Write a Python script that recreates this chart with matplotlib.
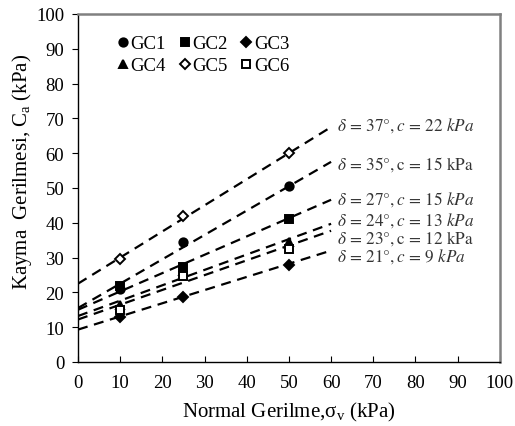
import matplotlib
matplotlib.use("Agg")
import matplotlib.pyplot as plt

plt.rcParams["font.family"] = "Liberation Serif"
plt.rcParams["mathtext.fontset"] = "stix"

# measured points (normal stress, shear stress)
sigma_v = [10, 25, 50]
series_names = ["GC1", "GC2", "GC3", "GC4", "GC5", "GC6"]
gc1 = [21.0, 34.5, 50.6]
gc2 = [21.7, 27.4, 41.2]
gc3 = [13.0, 18.6, 27.9]
gc4 = [16.3, 26.2, 34.4]
gc5 = [29.6, 42.0, 60.0]
gc6 = [15.0, 24.6, 32.5]

# fitted envelopes, value at sigma = 0 and sigma = 60
fit_x = [0, 60]
fit_start = [22.5, 15.5, 15.0, 13.2, 12.2, 9.3]
fit_end = [67.5, 57.5, 46.6, 39.7, 37.7, 32.0]
fit_labels = [
    r"$\delta\,=\,37°, c\,=\,22\ kPa$",
    r"$\delta\,=\,35°, \mathrm{c}\,=\,15\ \mathrm{kPa}$",
    r"$\delta\,=\,27°, c\,=\,15\ kPa$",
    r"$\delta\,=\,24°, c\,=\,13\ kPa$",
    r"$\delta\,=\,23°, \mathrm{c}\,=\,12\ \mathrm{kPa}$",
    r"$\delta\,=\,21°, c\,=\,9\ kPa$",
]
label_y = [68.1, 57.0, 47.0, 40.9, 35.8, 30.7]

markers = ["o", "s", "D", "^", "D", "s"]
filled = [True, True, True, True, False, False]

fig = plt.figure(figsize=(5.15, 4.27), dpi=100)
ax = fig.add_axes([0.1515, 0.150, 0.819, 0.815])

for ys, ye in zip(fit_start, fit_end):
    ax.plot(fit_x, [ys, ye], color="black", lw=1.6, ls=(0, (4.5, 3)))

handles = []
for name, vals, m, f in zip(series_names, [gc1, gc2, gc3, gc4, gc5, gc6], markers, filled):
    ms = 6 if m != "D" else 5
    h, = ax.plot(sigma_v, vals, ls="none", marker=m, ms=ms, mew=1.4,
                 mfc="black" if f else "white", mec="black", label=name, zorder=3)
    handles.append(h)

for txt, y in zip(fit_labels, label_y):
    ax.text(61.3, y, txt, fontsize=12.3, va="center", ha="left", color="#333333")

ax.set_xlim(0, 100)
ax.set_ylim(0, 100)
ax.set_xticks(range(0, 101, 10))
ax.set_yticks(range(0, 101, 10))
ax.tick_params(axis="x", direction="in", length=4, labelsize=13.5, pad=9)
ax.tick_params(axis="y", direction="out", length=4, labelsize=13.5, pad=6)

for s in ["top", "right"]:
    ax.spines[s].set_color("#808080")
    ax.spines[s].set_linewidth(1.8)
for s in ["left", "bottom"]:
    ax.spines[s].set_color("black")
    ax.spines[s].set_linewidth(1.0)

ax.set_xlabel(r"Normal Gerilme,$\mathregular{\sigma_v}$ (kPa)", fontsize=15, labelpad=6)
ax.set_ylabel(r"Kayma  Gerilmesi, $\mathregular{C_a}$ (kPa)", fontsize=15)
ax.yaxis.set_label_coords(-0.105, 0.55)

# matplotlib fills legend columns first, reorder so rows read GC1-3 / GC4-6
order = [0, 3, 1, 4, 2, 5]
ax.legend([handles[i] for i in order], [series_names[i] for i in order],
          ncol=3, loc="upper left", bbox_to_anchor=(0.076, 0.96), frameon=False,
          fontsize=13.5, handletextpad=0.1, columnspacing=0.7, labelspacing=0.25,
          handlelength=0.6, borderaxespad=0)

fig.savefig("out.png", dpi=100)
